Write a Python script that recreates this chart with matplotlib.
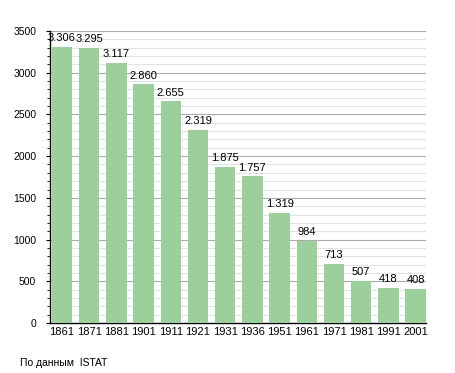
import matplotlib
matplotlib.use("Agg")
from matplotlib import pyplot as plt
from matplotlib.ticker import MultipleLocator

years = ["1861", "1871", "1881", "1901", "1911", "1921", "1931",
         "1936", "1951", "1961", "1971", "1981", "1991", "2001"]
population = [3306, 3295, 3117, 2860, 2655, 2319, 1875,
              1757, 1319, 984, 713, 507, 418, 408]
labels = ["3.306", "3.295", "3.117", "2.860", "2.655", "2.319", "1.875",
          "1.757", "1.319", "984", "713", "507", "418", "408"]

plt.rcParams["font.family"] = ["Liberation Sans", "DejaVu Sans"]

fig = plt.figure(figsize=(4.55, 3.73), dpi=100)
ax = fig.add_axes([0.11, 0.134, 0.826, 0.783])

w = 0.75
x = list(range(len(years)))
ax.bar(x, population, width=w, color="#9ccf9c", zorder=3)
for i, (v, t) in enumerate(zip(population, labels)):
    ax.text(i, v + 45, t, ha="center", va="bottom", fontsize=8, zorder=4)

ax.set_xlim(-w / 2 - 0.06, len(years) - 1 + w / 2)
ax.set_ylim(0, 3500)
ax.yaxis.set_major_locator(MultipleLocator(500))
ax.yaxis.set_minor_locator(MultipleLocator(100))
ax.grid(axis="y", which="major", color="#aaaaaa", linewidth=0.8, zorder=1)
ax.grid(axis="y", which="minor", color="#e2e2e2", linewidth=0.8, zorder=0)
ax.set_xticks(x)
ax.set_xticklabels(years)
ax.tick_params(axis="x", length=0, labelsize=8, pad=3)
ax.tick_params(axis="y", which="major", length=3, labelsize=7.5, direction="out", pad=7)
ax.tick_params(axis="y", which="minor", length=2, direction="out")
for s in ["top", "right"]:
    ax.spines[s].set_visible(False)
ax.spines["left"].set_linewidth(1)
ax.spines["bottom"].set_linewidth(1)

fig.text(0.044, 0.018, "По данным  ISTAT", fontsize=7.5)

fig.savefig("out.png", dpi=100)
